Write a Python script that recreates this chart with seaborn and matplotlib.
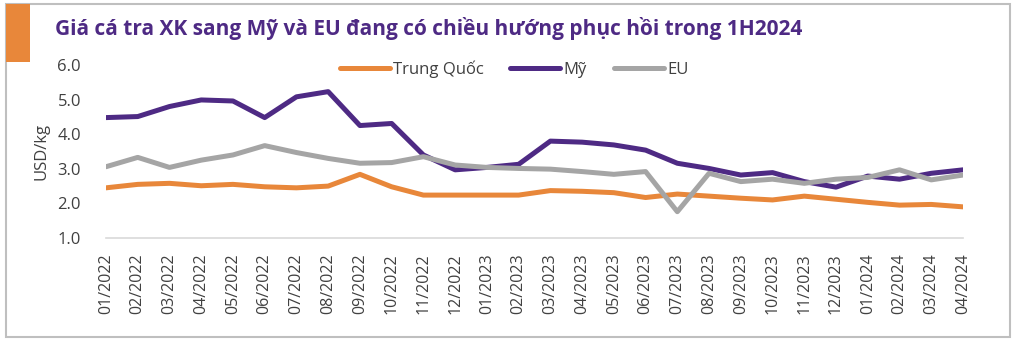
import matplotlib
matplotlib.use("Agg")
import matplotlib.pyplot as plt
from matplotlib.patches import Rectangle
import seaborn as sns
import pandas as pd

# Monthly export prices of pangasius (USD/kg)
months = [
    "01/2022", "02/2022", "03/2022", "04/2022", "05/2022", "06/2022", "07/2022",
    "08/2022", "09/2022", "10/2022", "11/2022", "12/2022", "01/2023", "02/2023",
    "03/2023", "04/2023", "05/2023", "06/2023", "07/2023", "08/2023", "09/2023",
    "10/2023", "11/2023", "12/2023", "01/2024", "02/2024", "03/2024", "04/2024",
]
trung_quoc = [2.45, 2.55, 2.58, 2.51, 2.55, 2.48, 2.45, 2.50, 2.84, 2.48, 2.24, 2.24,
              2.24, 2.24, 2.37, 2.35, 2.31, 2.17, 2.27, 2.21, 2.15, 2.10, 2.21, 2.12,
              2.03, 1.95, 1.97, 1.90]
my = [4.48, 4.51, 4.80, 4.99, 4.96, 4.48, 5.08, 5.23, 4.25, 4.31, 3.40, 2.97,
      3.04, 3.13, 3.80, 3.77, 3.69, 3.54, 3.16, 3.01, 2.82, 2.89, 2.63, 2.47,
      2.79, 2.70, 2.87, 2.97]
eu = [3.06, 3.33, 3.04, 3.25, 3.40, 3.67, 3.47, 3.30, 3.16, 3.18, 3.35, 3.11,
      3.04, 3.01, 2.99, 2.92, 2.84, 2.92, 1.76, 2.87, 2.63, 2.70, 2.58, 2.70,
      2.75, 2.97, 2.68, 2.82]
series_names = ["Trung Quốc", "Mỹ", "EU"]
series_colors = ["#E8873A", "#4E2A84", "#A5A5A5"]

title = "Giá cá tra XK sang Mỹ và EU đang có chiều hướng phục hồi trong 1H2024"
y_label = "USD/kg"
y_ticks = [1.0, 2.0, 3.0, 4.0, 5.0, 6.0]

df = pd.DataFrame({
    "month": months * 3,
    "price": trung_quoc + my + eu,
    "series": [series_names[0]] * len(months)
    + [series_names[1]] * len(months)
    + [series_names[2]] * len(months),
})

sns.set_theme(style="white")
plt.rcParams["font.family"] = ["Open Sans", "DejaVu Sans"]

fig = plt.figure(figsize=(10.24, 3.46), dpi=100)
ax = fig.add_axes([106 / 1024, 1 - 238 / 346, (963 - 106) / 1024, (238 - 65) / 346])

sns.lineplot(
    data=df, x="month", y="price", hue="series", hue_order=series_names,
    palette=dict(zip(series_names, series_colors)), sort=False,
    linewidth=3.6, ax=ax, legend=False,
)
for line in ax.get_lines():
    line.set_solid_capstyle("round")
    line.set_solid_joinstyle("round")

ax.set_xlim(0, len(months) - 1)
ax.set_ylim(1.0, 6.0)
ax.set_yticks(y_ticks)
ax.set_yticklabels([f"{v:.1f}" for v in y_ticks], fontsize=12, color="#404040")
ax.tick_params(axis="y", length=0, pad=18)
ax.tick_params(axis="x", length=0, pad=11, labelrotation=90, labelsize=11.5,
               labelcolor="#404040")
ax.set_xlabel("")
ax.set_ylabel(y_label, fontsize=12, color="#404040", labelpad=6)
for side in ["top", "right", "left"]:
    ax.spines[side].set_visible(False)
ax.spines["bottom"].set_color("#D9D9D9")
ax.spines["bottom"].set_linewidth(1.2)
ax.grid(False)

# Legend across the top of the plot
handles = [plt.Line2D([0], [0], color=c, linewidth=3.6, solid_capstyle="round")
           for c in series_colors]
fig.legend(handles, series_names, loc="center", bbox_to_anchor=(514 / 1024, 1 - 69 / 346),
           ncol=3, frameon=False, fontsize=12, handlelength=3.0, handletextpad=0.2,
           columnspacing=1.6, labelcolor="#404040")

# Outer frame and accent block
fig.patches.append(Rectangle((6 / 1024, 1 - 337 / 346), (1010 - 6) / 1024, (337 - 4) / 346,
                             transform=fig.transFigure, fill=False, edgecolor="#BFBFBF",
                             linewidth=1.5))
fig.patches.append(Rectangle((6 / 1024, 1 - 62 / 346), 24 / 1024, 58 / 346,
                             transform=fig.transFigure, facecolor="#E8873A",
                             edgecolor="none"))
fig.text(55 / 1024, 1 - 29 / 346, title, fontsize=15, fontweight="bold",
         color="#4E2A84", va="center", ha="left")

fig.savefig("out.png", dpi=100)
